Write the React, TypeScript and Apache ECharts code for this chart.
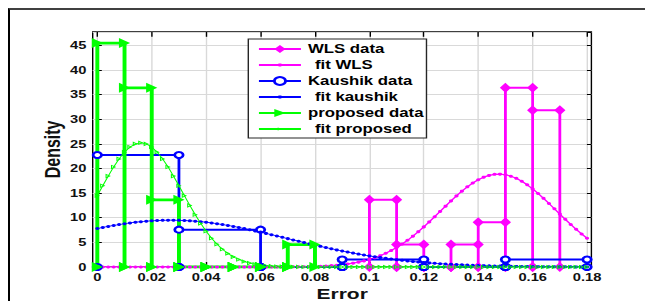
import React, { useEffect, useRef } from "react";
import * as echarts from "echarts";

// The reference picture is horizontally stretched; the chart is drawn in an
// unstretched space and the container is scaled along x.
const S = 1.4;
const PAGE_W = 645;
const PAGE_H = 301;
const FONT = "'Liberation Sans', Arial, sans-serif";

// axis limits and ticks
const xLimits = [-0.0017, 0.1816];
const yLimits = [0, 47.73];
const xTickRange = [0, 0.18];
const xTickStep = 0.02;
const yTickStep = 5;

// histogram data (density)
const wlsBinLeft = [0.1, 0.11, 0.12, 0.13, 0.14, 0.15, 0.16];
const wlsDensity = [13.64, 4.55, 0, 4.55, 9.09, 36.36, 31.82];
const wlsBinWidth = 0.01;

const kaushikBinLeft = [0, 0.03, 0.06, 0.09, 0.12, 0.15];
const kaushikDensity = [22.73, 7.58, 0, 1.52, 0, 1.52];
const kaushikBinWidth = 0.03;

const proposedBinLeft = [0, 0.01, 0.02, 0.03, 0.04, 0.05, 0.06, 0.07];
const proposedDensity = [45.45, 36.36, 13.64, 0, 0, 0, 0, 4.55];
const proposedBinWidth = 0.01;

// fitted curves, sampled
const fitX = [
  0, 0.002, 0.004, 0.006, 0.008, 0.01, 0.012, 0.014, 0.016, 0.018,
  0.02, 0.022, 0.024, 0.026, 0.028, 0.03, 0.032, 0.034, 0.036, 0.038,
  0.04, 0.042, 0.044, 0.046, 0.048, 0.05, 0.052, 0.054, 0.056, 0.058,
  0.06, 0.062, 0.064, 0.066, 0.068, 0.07, 0.072, 0.074, 0.076, 0.078,
  0.08, 0.082, 0.084, 0.086, 0.088, 0.09, 0.092, 0.094, 0.096, 0.098,
  0.1, 0.102, 0.104, 0.106, 0.108, 0.11, 0.112, 0.114, 0.116, 0.118,
  0.12, 0.122, 0.124, 0.126, 0.128, 0.13, 0.132, 0.134, 0.136, 0.138,
  0.14, 0.142, 0.144, 0.146, 0.148, 0.15, 0.152, 0.154, 0.156, 0.158,
  0.16, 0.162, 0.164, 0.166, 0.168, 0.17, 0.172, 0.174, 0.176, 0.178,
  0.18,
];
const fitWLS = [
  0, 0, 0, 0, 0, 0, 0, 0, 0, 0,
  0, 0, 0, 0, 0, 0, 0, 0, 0, 0,
  0, 0, 0, 0, 0, 0, 0, 0, 0, 0,
  0, 0, 0, 0, 0, 0.02, 0.03, 0.05, 0.06, 0.09,
  0.12, 0.16, 0.21, 0.28, 0.37, 0.48, 0.62, 0.78, 0.99, 1.24,
  1.54, 1.89, 2.3, 2.78, 3.33, 3.95, 4.65, 5.42, 6.26, 7.17,
  8.14, 9.15, 10.21, 11.28, 12.35, 13.41, 14.43, 15.39, 16.27, 17.05,
  17.71, 18.23, 18.59, 18.8, 18.84, 18.72, 18.43, 17.99, 17.4, 16.68,
  15.85, 14.92, 13.93, 12.89, 11.82, 10.74, 9.68, 8.64, 7.65, 6.71,
  5.83,
];
const fitKaushik = [
  7.8, 8.02, 8.23, 8.43, 8.62, 8.79, 8.94, 9.08, 9.19, 9.29,
  9.37, 9.44, 9.48, 9.5, 9.5, 9.48, 9.44, 9.37, 9.29, 9.19,
  9.08, 8.94, 8.79, 8.62, 8.43, 8.23, 8.02, 7.8, 7.57, 7.33,
  7.08, 6.82, 6.56, 6.3, 6.03, 5.76, 5.49, 5.23, 4.96, 4.7,
  4.45, 4.19, 3.95, 3.71, 3.47, 3.25, 3.03, 2.82, 2.62, 2.43,
  2.25, 2.08, 1.91, 1.76, 1.61, 1.47, 1.35, 1.23, 1.12, 1.01,
  0.92, 0.83, 0.75, 0.67, 0.6, 0.54, 0.48, 0.43, 0.38, 0.34,
  0.3, 0.27, 0.23, 0.21, 0.18, 0.16, 0.14, 0.12, 0.11, 0.09,
  0.08, 0.07, 0.06, 0.05, 0.04, 0.04, 0.03, 0.03, 0.02, 0.02,
  0.02,
];
const fitProposed = [
  14.48, 16.49, 18.45, 20.3, 21.94, 23.31, 24.34, 24.98, 25.2, 24.98,
  24.34, 23.31, 21.94, 20.3, 18.45, 16.49, 14.48, 12.5, 10.6, 8.84,
  7.25, 5.84, 4.62, 3.59, 2.75, 2.06, 1.52, 1.11, 0.79, 0.55,
  0.38, 0.26, 0.17, 0.11, 0.07, 0.05, 0.03, 0.02, 0.01, 0.01,
  0, 0, 0, 0, 0, 0, 0, 0, 0, 0,
  0, 0, 0, 0, 0, 0, 0, 0, 0, 0,
  0, 0, 0, 0, 0, 0, 0, 0, 0, 0,
  0, 0, 0, 0, 0, 0, 0, 0, 0, 0,
  0, 0, 0, 0, 0, 0, 0, 0, 0, 0,
  0,
];

const dataNames = ["WLS data", "Kaushik data", "proposed data"];
const fitNames = ["fit WLS", "fit kaushik", "fit proposed"];

const MAGENTA = "#ff00ff";
const BLUE = "#0000ff";
const GREEN = "#00ff00";

// hollow right-pointing triangle (outer and inner contours of opposite winding)
const HOLLOW_TRIANGLE_RIGHT = "path://M0,0 L10,5 L0,10 Z M2,3 L2,7 L6,5 Z";

function histOutline(left: number[], heights: number[], w: number) {
  const pts: number[][] = [];
  left.forEach((l, i) => {
    const h = heights[i];
    const r = Math.round((l + w) * 1e6) / 1e6;
    pts.push([l, 0], [l, h], [r, h], [r, 0]);
  });
  return pts;
}

function curve(xs: number[], ys: number[]) {
  return xs.map((x, i) => [x, ys[i]]);
}

export default function App() {
  const ref = useRef<HTMLDivElement>(null);

  useEffect(() => {
    if (!ref.current) return;
    const chart = echarts.init(ref.current, null, { renderer: "svg" });
    const W = PAGE_W / S;
    // page-pixel geometry of the plot box
    const boxLeft = 92.7 / S;
    const boxRight = 591 / S;
    const boxTop = 31.8;
    const boxBottom = 267;
    const tick0 = 97.3 / S;
    const tick18 = 586.7 / S;

    const labelStyle = {
      fontFamily: FONT,
      fontWeight: "bold",
      fontSize: 10.5,
      color: "#111",
    };
    const nameStyle = {
      fontFamily: FONT,
      fontWeight: "bold",
      fontSize: 16,
      color: "#111",
    };
    const legendText = {
      fontFamily: FONT,
      fontWeight: "bold",
      fontSize: 12,
      lineHeight: 14,
      color: "#000",
    };
    const gridColor = "#d9d9d9";

    const option: any = {
      animation: false,
      backgroundColor: "transparent",
      grid: [
        {
          left: boxLeft,
          right: W - boxRight,
          top: boxTop,
          bottom: PAGE_H - boxBottom,
          show: true,
          borderColor: "#000",
          borderWidth: 1,
          backgroundColor: "transparent",
          containLabel: false,
          outerBoundsMode: "none",
        },
        {
          left: tick0,
          right: W - tick18,
          top: boxTop,
          bottom: PAGE_H - boxBottom,
          show: false,
          containLabel: false,
          outerBoundsMode: "none",
        },
      ],
      xAxis: [
        {
          type: "value",
          gridIndex: 0,
          min: xLimits[0],
          max: xLimits[1],
          show: false,
        },
        {
          type: "value",
          gridIndex: 1,
          min: xTickRange[0],
          max: xTickRange[1],
          interval: xTickStep,
          position: "bottom",
          name: "Error",
          nameLocation: "middle",
          nameGap: 19,
          nameMoveOverlap: false,
          nameTextStyle: { ...nameStyle, fontSize: 15 },
          axisLine: { show: false },
          axisTick: { show: true, inside: true, length: 5, lineStyle: { color: "#000", width: 1 } },
          axisLabel: { ...labelStyle, margin: 5, hideOverlap: false },
          splitLine: { show: true, lineStyle: { color: gridColor, width: 1 } },
        },
        {
          type: "value",
          gridIndex: 1,
          min: xTickRange[0],
          max: xTickRange[1],
          interval: xTickStep,
          position: "top",
          axisLine: { show: false },
          axisTick: { show: true, inside: true, length: 5, lineStyle: { color: "#000", width: 1 } },
          axisLabel: { show: false },
          splitLine: { show: false },
        },
      ],
      yAxis: [
        {
          type: "value",
          gridIndex: 0,
          min: yLimits[0],
          max: yLimits[1],
          interval: yTickStep,
          position: "left",
          name: "Density",
          nameLocation: "middle",
          nameRotate: 90,
          nameGap: 21,
          nameMoveOverlap: false,
          nameTextStyle: nameStyle,
          axisLine: { show: false },
          axisTick: { show: true, inside: true, length: 3.2, lineStyle: { color: "#000", width: 1 } },
          axisLabel: { ...labelStyle, margin: 4.5, showMaxLabel: false, hideOverlap: false },
          splitLine: { show: true, lineStyle: { color: gridColor, width: 1 } },
        },
        {
          type: "value",
          gridIndex: 0,
          min: yLimits[0],
          max: yLimits[1],
          interval: yTickStep,
          position: "right",
          axisLine: { show: false },
          axisTick: { show: true, inside: true, length: 3.2, lineStyle: { color: "#000", width: 1 } },
          axisLabel: { show: false },
          splitLine: { show: false },
        },
        {
          type: "value",
          gridIndex: 1,
          min: yLimits[0],
          max: yLimits[1],
          show: false,
        },
      ],
      legend: [
        {
          data: dataNames,
          orient: "vertical",
          left: 248.3 / S,
          top: 39,
          itemWidth: 30,
          itemHeight: 10,
          itemGap: 18,
          padding: [3, 2, 18, 6.6],
          backgroundColor: "#fff",
          borderColor: "#262626",
          borderWidth: 1,
          borderRadius: 0,
          textStyle: legendText,
          selectedMode: false,
          z: 10,
        },
        {
          data: fitNames,
          orient: "vertical",
          left: 248.3 / S + 6.6,
          top: 58,
          itemWidth: 30,
          itemHeight: 4,
          itemGap: 18,
          padding: 0,
          formatter: (n: string) => "{p| }" + n,
          textStyle: { ...legendText, rich: { p: { width: 5 } } },
          selectedMode: false,
          z: 11,
        },
      ],
      series: [
        {
          name: "WLS data",
          type: "line",
          xAxisIndex: 0,
          yAxisIndex: 0,
          data: histOutline(wlsBinLeft, wlsDensity, wlsBinWidth),
          color: MAGENTA,
          lineStyle: { width: 2, color: MAGENTA },
          symbol: "diamond",
          symbolSize: [8, 10],
          itemStyle: { color: MAGENTA, borderWidth: 0 },
          showSymbol: true,
          clip: true,
        },
        {
          name: "fit WLS",
          type: "line",
          xAxisIndex: 0,
          yAxisIndex: 0,
          data: curve(fitX, fitWLS),
          color: MAGENTA,
          lineStyle: { width: 1.2, color: MAGENTA },
          symbol: "circle",
          symbolSize: 3,
          itemStyle: { color: MAGENTA, borderWidth: 0 },
          showSymbol: true,
          clip: true,
        },
        {
          name: "Kaushik data",
          type: "line",
          xAxisIndex: 0,
          yAxisIndex: 0,
          data: histOutline(kaushikBinLeft, kaushikDensity, kaushikBinWidth),
          color: BLUE,
          lineStyle: { width: 2, color: BLUE },
          symbol: "emptyCircle",
          symbolSize: 6,
          itemStyle: { color: BLUE, borderColor: BLUE, borderWidth: 1.6 },
          showSymbol: true,
          clip: true,
        },
        {
          name: "fit kaushik",
          type: "line",
          xAxisIndex: 0,
          yAxisIndex: 0,
          data: curve(fitX, fitKaushik),
          color: BLUE,
          lineStyle: { width: 0.8, color: BLUE },
          symbol: "circle",
          symbolSize: 3,
          itemStyle: { color: BLUE, borderWidth: 0 },
          showSymbol: true,
          clip: true,
        },
        {
          name: "proposed data",
          type: "line",
          xAxisIndex: 0,
          yAxisIndex: 0,
          data: histOutline(proposedBinLeft, proposedDensity, proposedBinWidth),
          color: GREEN,
          lineStyle: { width: 2.8, color: GREEN },
          symbol: "triangle",
          symbolRotate: -90,
          symbolSize: [10, 8],
          itemStyle: { color: GREEN, borderWidth: 0 },
          showSymbol: true,
          clip: true,
        },
        {
          name: "fit proposed",
          type: "line",
          xAxisIndex: 0,
          yAxisIndex: 0,
          data: curve(fitX, fitProposed),
          color: GREEN,
          lineStyle: { width: 0.8, color: GREEN },
          symbol: HOLLOW_TRIANGLE_RIGHT,
          symbolSize: [3.8, 4.6],
          itemStyle: { color: GREEN, borderWidth: 0 },
          showSymbol: true,
          clip: true,
        },
      ],
    };
    chart.setOption(option);
    return () => chart.dispose();
  }, []);

  return (
    <div
      style={{
        position: "fixed",
        left: 0,
        top: 0,
        width: PAGE_W,
        height: PAGE_H,
        overflow: "hidden",
        background: "#fff",
      }}
    >
      <div
        style={{
          position: "absolute",
          left: 8,
          top: 8,
          width: 720,
          height: 400,
          borderLeft: "2px solid #000",
          borderTop: "2px solid #404040",
          boxSizing: "border-box",
        }}
      />
      <div
        ref={ref}
        style={{
          position: "absolute",
          left: 0,
          top: 0,
          width: PAGE_W / S,
          height: PAGE_H,
          transform: `scaleX(${S})`,
          transformOrigin: "0 0",
        }}
      />
    </div>
  );
}
